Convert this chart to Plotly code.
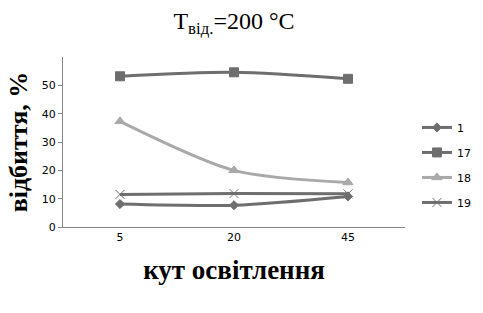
import plotly.graph_objects as go

categories = ["5", "20", "45"]
s1 = [8.1, 7.7, 10.8]
s17 = [53.2, 54.6, 52.3]
s18 = [37.3, 20.0, 15.7]
s19 = [11.5, 11.8, 11.7]
names = ["1", "17", "18", "19"]
y_ticks = [0, 10, 20, 30, 40, 50]

dark = "#6e6e6e"
light = "#a9a9a9"

series = [
    (names[0], s1, dark, "diamond", 7),
    (names[1], s17, dark, "square", 9),
    (names[2], s18, light, "triangle-up", 9),
    (names[3], s19, dark, "x-thin-open", 9),
]

fig = go.Figure()
for name, vals, col, sym, sz in series:
    fig.add_trace(go.Scatter(
        x=categories, y=vals, name=name, mode="lines+markers", legendgroup=name,
        line=dict(color=col, width=3, shape="spline", smoothing=0.8),
        marker=dict(symbol=sym, size=sz, color=col, line=dict(color=col, width=1)),
    ))

fig.update_layout(
    width=483, height=313,
    margin=dict(l=63, r=78, t=57, b=86, autoexpand=False),
    paper_bgcolor="white", plot_bgcolor="white",
    showlegend=True,
    legend=dict(x=1.035, y=0.365, xanchor="left", yanchor="middle",
                font=dict(family="DejaVu Sans", size=11, color="black"),
                tracegroupgap=6, itemwidth=30),
    title=dict(text="T<sub>від.</sub>=200 °C", x=0.5, xref="paper", y=0.935, yanchor="middle",
               font=dict(family="Liberation Serif", size=24, color="black")),
    font=dict(family="DejaVu Sans", size=11, color="black"),
)
fig.update_xaxes(
    type="category", range=[-0.5, 2.5], showline=True, linecolor="#868686",
    linewidth=1, showgrid=False, ticks="", tickfont=dict(size=11),
    title=dict(text="<b>кут освітлення</b>", standoff=16,
               font=dict(family="Liberation Serif", size=27, color="black")),
)
fig.update_yaxes(
    range=[0, 60], tickvals=y_ticks, showline=True, linecolor="#868686",
    linewidth=1, showgrid=False, ticks="outside", ticklen=4, tickcolor="#868686",
    zeroline=False, tickfont=dict(size=11),
    title=dict(text="<b>відбиття, %</b>", standoff=6,
               font=dict(family="Liberation Serif", size=26, color="black")),
)

fig.write_html("out.html")
